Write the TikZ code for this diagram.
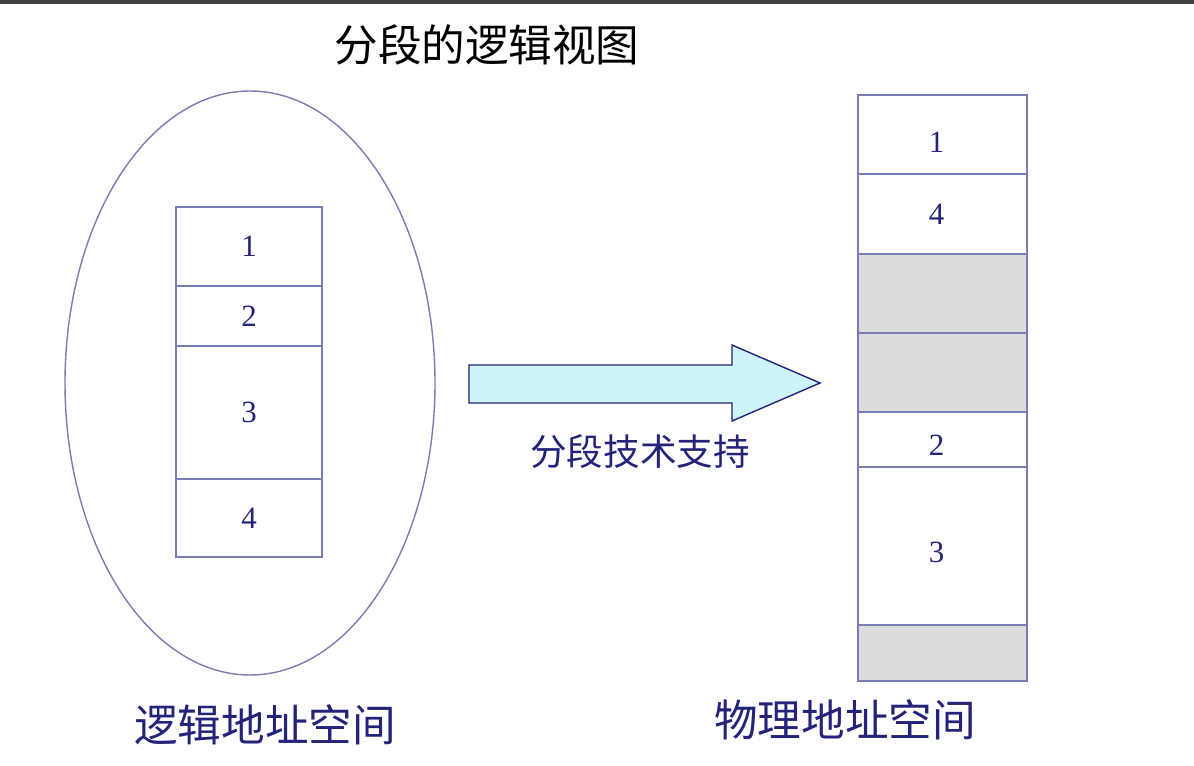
\documentclass[tikz,border=0pt]{standalone}
\usepackage{fontspec}
\setmainfont{Liberation Serif}
\newfontfamily\cjk{Noto Sans CJK SC}
\definecolor{navy}{HTML}{23237A}
\definecolor{edgeblue}{HTML}{7C7CB4}
\definecolor{freegray}{HTML}{DCDCDC}
\definecolor{arrowcyan}{HTML}{CCF4FA}
\tikzset{
    segbox/.style={draw=edgeblue, line width=1pt},
    seglabel/.style={text=navy, font=\fontsize{22}{22}\selectfont},
    cjklabel/.style={text=navy, font=\cjk\fontsize{31}{31}\selectfont}
}
\begin{document}
\begin{tikzpicture}[x=0.025cm, y=-0.025cm]
            \useasboundingbox (0,0) rectangle (1194,766);
            \fill[white] (0,0) rectangle (1194,766);
            \fill[black!75] (0,0) rectangle (1194,4);
            \node[text=black, font=\cjk\fontsize{31}{31}\selectfont] (title) at (487,45) {分段的逻辑视图};
            % logical address space
            \begin{scope}
                \draw[edgeblue, line width=1pt] (250,383) ellipse (185 and 292);
                \draw[segbox] (176,207) rectangle (322,286) node[seglabel,midway] (l1) {1};
                \draw[segbox] (176,286) rectangle (322,346) node[seglabel,midway] (l2) {2};
                \draw[segbox] (176,346) rectangle (322,479) node[seglabel,midway] (l3) {3};
                \draw[segbox] (176,479) rectangle (322,557) node[seglabel,midway] (l4) {4};
                \node[cjklabel] (logic) at (265,725) {逻辑地址空间};
            \end{scope}
            % mapping arrow
            \draw[navy, fill=arrowcyan, line width=1pt, line join=miter]
                (469,365) -- (732,365) -- (732,345) -- (820,383) -- (732,421) -- (732,403) -- (469,403) -- cycle;
            \node[text=navy, font=\cjk\fontsize{26}{26}\selectfont] (tech) at (640,452) {分段技术支持};
            % physical address space
            \begin{scope}
                \draw[segbox] (858,95) rectangle (1027,174) node[seglabel,midway,xshift=-0.15cm,yshift=-0.2cm] (p1) {1};
                \draw[segbox] (858,174) rectangle (1027,254) node[seglabel,midway,xshift=-0.15cm] (p4) {4};
                \draw[segbox, fill=freegray] (858,254) rectangle (1027,333);
                \draw[segbox, fill=freegray] (858,333) rectangle (1027,412);
                \draw[segbox] (858,412) rectangle (1027,467) node[seglabel,midway,xshift=-0.15cm,yshift=-0.15cm] (p2) {2};
                \draw[segbox] (858,467) rectangle (1027,625) node[seglabel,midway,xshift=-0.15cm,yshift=-0.15cm] (p3) {3};
                \draw[segbox, fill=freegray] (858,625) rectangle (1027,681);
                \node[cjklabel] (phys) at (845,720) {物理地址空间};
            \end{scope}
        \end{tikzpicture}
\end{document}
